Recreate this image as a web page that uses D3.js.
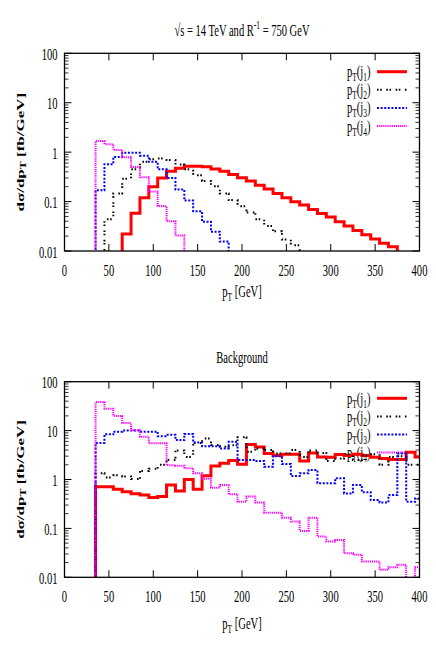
<!DOCTYPE html>
<html><head><meta charset="utf-8">
<script src="https://cdn.jsdelivr.net/npm/d3@7"></script>
<style>body{margin:0;background:#fff}svg{display:block}</style>
</head><body><svg id="c" width="436" height="654"></svg>
<script>
// ---------- data ----------
const xTicks = [0, 50, 100, 150, 200, 250, 300, 350, 400];
const yTicks = [100, 10, 1, 0.1, 0.01];
const yTickLabels = ["100", "10", "1", "0.1", "0.01"];
const binWidth = 10;
const legendLabels = ["1", "2", "3", "4"];
const seriesColors = ["#ff0000", "#000000", "#0000ff", "#ff00ff"];

// Signal: sqrt(s)=14 TeV, R^-1 = 750 GeV (first bin lower edge + values per 10 GeV bin)
const sigStarts = [65, 45, 35, 35];
const sigJ1 = [0.022, 0.058, 0.12, 0.20, 0.30, 0.41, 0.475, 0.52, 0.52, 0.505, 0.454, 0.413, 0.354, 0.303, 0.26, 0.215, 0.179, 0.146, 0.12, 0.099, 0.085, 0.0695, 0.0577, 0.0486, 0.0392, 0.032, 0.0261, 0.0214, 0.0175, 0.0143, 0.0122];
const sigJ2 = [0.044, 0.146, 0.29, 0.45, 0.64, 0.72, 0.74, 0.69, 0.56, 0.45, 0.34, 0.26, 0.205, 0.146, 0.107, 0.08, 0.06, 0.044, 0.032, 0.025, 0.017, 0.013];
const sigJ3 = [0.17, 0.57, 0.80, 0.97, 0.97, 0.85, 0.64, 0.45, 0.30, 0.175, 0.105, 0.064, 0.039, 0.0245, 0.0155];
const sigJ4 = [1.68, 1.45, 1.11, 0.79, 0.50, 0.31, 0.16, 0.081, 0.040, 0.0205];

// Background
const bkgStarts = [35, 35, 35, 35];
const bkgJ1 = [0.71, 0.71, 0.63, 0.565, 0.51, 0.48, 0.43, 0.45, 0.77, 0.58, 1.0, 0.63, 1.2, 1.88, 2.14, 2.45, 2.04, 5.2, 4.6, 3.4, 3.1, 3.3, 3.3, 2.4, 3.5, 2.9, 2.85, 3.25, 3.1, 3.3, 3.1, 2.85, 2.7, 2.55, 2.55, 3.6, 2.9];
const bkgJ2 = [1.34, 1.1, 1.22, 1.15, 1.02, 1.5, 1.65, 2.0, 2.5, 3.9, 2.9, 5.6, 6.9, 5.1, 4.7, 5.0, 7.3, 3.7, 4.3, 4.0, 3.4, 3.4, 4.0, 2.9, 3.9, 3.5, 2.4, 2.7, 3.3, 2.5, 3.1, 3.3, 2.0, 2.9, 3.0, 2.0, 2.0];
const bkgJ3 = [5.6, 8.4, 9.5, 10, 10, 9.5, 9.5, 7.7, 8.2, 6.4, 8.5, 5.7, 4.8, 4.8, 4.3, 5.9, 2.5, 2.5, 2.4, 1.83, 3.0, 2.07, 1.18, 1.34, 1.56, 0.84, 0.84, 1.06, 0.52, 0.77, 0.55, 0.38, 0.34, 0.48, 3.4, 0.35, 0.41];
const bkgJ4 = [38.5, 28, 20, 14.3, 10.2, 7.5, 5.5, 5.5, 1.95, 1.9, 1.7, 1.34, 1.03, 0.68, 0.77, 0.5, 0.35, 0.45, 0.34, 0.21, 0.21, 0.166, 0.138, 0.089, 0.166, 0.068, 0.054, 0.058, 0.031, 0.029, 0.021, 0.021, 0.0142, 0.016, 0.018, 0.008, 0.016];

// ---------- drawing ----------
const svg = d3.select("#c");
const FONT = "Liberation Serif, Times New Roman, serif";
const SX = 0.62;     // horizontal squeeze of text
const FS = 17, FSS = 12;

const styles = [
  {w: 3, dash: null},
  {w: 2, dash: "1.6,1.6,1.6,4.5"},
  {w: 2, dash: "2,1.6"},
  {w: 2, dash: "1.2,0.9"}
];

function richText(parent, x, y, parts, anchor, opts = {}) {
  const g = parent.append("g")
    .attr("transform", opts.rotate
      ? `translate(${x},${y}) rotate(-90) scale(1,${SX})`
      : `translate(${x},${y}) scale(${SX},1)`);
  const t = g.append("text").attr("x", 0).attr("y", 0)
    .attr("text-anchor", anchor)
    .attr("font-family", FONT)
    .attr("font-size", opts.fs || FS)
    .attr("font-weight", opts.bold ? "bold" : "normal")
    .attr("fill", "#000");
  let cur = 0;
  parts.forEach(p => {
    const [txt, kind] = Array.isArray(p) ? p : [p, "n"];
    let target = kind === "sub" ? 4 : kind === "sup" ? -7 : 0;
    const ts = t.append("tspan").text(txt).attr("dy", target - cur);
    if (kind !== "n") ts.attr("font-size", opts.fss || FSS);
    cur = target;
  });
  return t;
}

function panel(cfg) {
  const x = d3.scaleLinear().domain([0, 400]).range([64.5, 419.5]);
  const y = d3.scaleLog().domain([0.01, 100]).range([cfg.bottom, cfg.top]);
  const g = svg.append("g");
  const clipId = "clip" + cfg.id;
  svg.append("clipPath").attr("id", clipId).append("rect")
    .attr("x", x(0)).attr("y", y(100)).attr("width", x(400) - x(0)).attr("height", y(0.01) - y(100));

  // title
  richText(g, 242, cfg.titleY, cfg.title, "middle");

  // ticks x (inside, bottom & top)
  xTicks.forEach(v => {
    if (v === 0 || v === 400) return;
    g.append("line").attr("x1", x(v)).attr("x2", x(v)).attr("y1", y(0.01)).attr("y2", y(0.01) - 7)
      .attr("stroke", "#000").attr("stroke-width", 1);
    g.append("line").attr("x1", x(v)).attr("x2", x(v)).attr("y1", y(100)).attr("y2", y(100) + 7)
      .attr("stroke", "#000").attr("stroke-width", 1);
  });
  xTicks.forEach(v => richText(g, x(v), cfg.xLabelY, [String(v)], "middle"));

  // ticks y: major and minor, both sides
  const minors = [];
  for (let e = -2; e < 2; e++) for (let m = 2; m <= 9; m++) minors.push(m * Math.pow(10, e));
  yTicks.forEach(v => {
    [[x(0), 7], [x(400), -7]].forEach(([xx, l]) =>
      g.append("line").attr("x1", xx).attr("x2", xx + l).attr("y1", y(v)).attr("y2", y(v))
        .attr("stroke", "#000").attr("stroke-width", 1));
  });
  minors.forEach(v => {
    [[x(0), 4], [x(400), -4]].forEach(([xx, l]) =>
      g.append("line").attr("x1", xx).attr("x2", xx + l).attr("y1", y(v)).attr("y2", y(v))
        .attr("stroke", "#000").attr("stroke-width", 0.8));
  });
  yTicks.forEach((v, i) => richText(g, 57.5, y(v) + 6.5, [yTickLabels[i]], "end"));

  // axis titles
  richText(g, 242, cfg.xTitleY, ["p", ["T", "sub"], " [GeV]"], "middle");
  richText(g, 24, (cfg.top + cfg.bottom) / 2, ["dσ/dp", ["T", "sub"], " [fb/GeV]"], "middle",
    {rotate: true, bold: true});

  // legend
  cfg.series.forEach((s, i) => {
    const ly = cfg.legendY + i * cfg.legendStep;
    richText(g, 370.5, ly + 5.5, ["p", ["T", "sub"], "(j", [legendLabels[i], "sub"], ")"], "end");
    g.append("line").attr("x1", 377).attr("x2", 407).attr("y1", ly).attr("y2", ly)
      .attr("stroke", seriesColors[i]).attr("stroke-width", styles[i].w)
      .attr("stroke-dasharray", styles[i].dash);
  });

  // histograms
  const line = d3.line().x(d => x(d[0])).y(d => y(d[1])).curve(d3.curveStepAfter);
  const dataG = g.append("g").attr("clip-path", `url(#${clipId})`);
  cfg.series.forEach((vals, i) => {
    const st = cfg.starts[i];
    const pts = [[st, 0.001]].concat(vals.map((v, k) => [st + k * binWidth, v]))
      .concat([[st + vals.length * binWidth, 0.001]]);
    dataG.append("path").attr("d", line(pts)).attr("fill", "none")
      .attr("stroke", seriesColors[i]).attr("stroke-width", styles[i].w)
      .attr("stroke-dasharray", styles[i].dash);
  });

  // frame
  g.append("rect").attr("x", x(0)).attr("y", y(100)).attr("width", x(400) - x(0))
    .attr("height", y(0.01) - y(100)).attr("fill", "none").attr("stroke", "#000").attr("stroke-width", 1.3);
}

panel({
  id: "sig", top: 53.3, bottom: 251, titleY: 35.5,
  title: ["√s = 14 TeV and R", ["-1", "sup"], " = 750 GeV"],
  xLabelY: 275.5, xTitleY: 297,
  legendY: 71.7, legendStep: 18.1,
  series: [sigJ1, sigJ2, sigJ3, sigJ4], starts: sigStarts
});
panel({
  id: "bkg", top: 381.7, bottom: 577.3, titleY: 363,
  title: ["Background"],
  xLabelY: 601.5, xTitleY: 629,
  legendY: 398.3, legendStep: 18.1,
  series: [bkgJ1, bkgJ2, bkgJ3, bkgJ4], starts: bkgStarts
});
</script></body></html>
